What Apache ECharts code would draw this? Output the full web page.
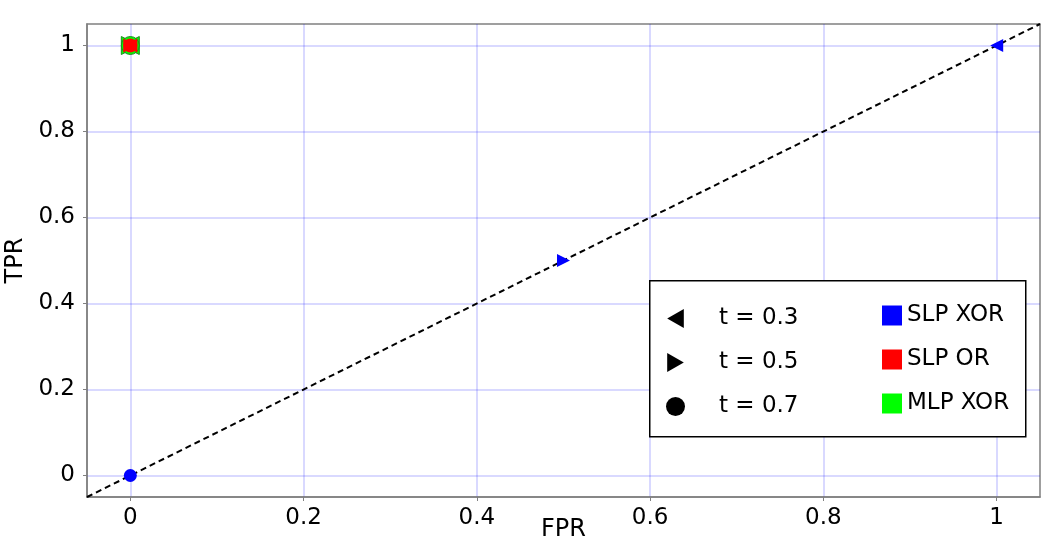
<!DOCTYPE html>
<html>
<head>
<meta charset="utf-8">
<script src="https://cdn.jsdelivr.net/npm/echarts@6/dist/echarts.min.js"></script>
<style>html,body{margin:0;padding:0;background:#fff}#c{width:1062px;height:551px}</style>
</head>
<body>
<div id="c"></div>
<script>
const thresholdNames = ['t = 0.3', 't = 0.5', 't = 0.7'];
const modelNames = ['SLP XOR', 'SLP OR', 'MLP XOR'];
const slpXorPoints = [[1, 1], [0.5, 0.5], [0, 0]];
const slpOrPoints = [[0, 1], [0, 1], [0, 1]];
const mlpXorPoints = [[0, 1], [0, 1], [0, 1]];
const chanceLine = [[-0.05, -0.05], [1.05, 1.05]];
const tickValues = [0, 0.2, 0.4, 0.6, 0.8, 1];
const axisRange = [-0.05, 1.05];

const FONT = 'DejaVu Sans';
const LEFT_TRI = 'path://M0,8L14,0L14,16Z';
const RIGHT_TRI = 'path://M14,8L0,0L0,16Z';
const thresholdSymbols = [LEFT_TRI, RIGHT_TRI, 'circle'];
const modelColors = ['#0000ff', '#ff0000', '#00ff00'];

function pointsWithSymbols(points) {
  return points.map((p, i) => ({ value: p, symbol: thresholdSymbols[i] }));
}

const chart = echarts.init(document.getElementById('c'), null, { renderer: 'canvas' });

function axis(name, nameGap, labelMargin) {
  return {
    type: 'value',
    min: axisRange[0], max: axisRange[1],
    name: name, nameLocation: 'middle', nameGap: nameGap, nameMoveOverlap: false,
    nameTextStyle: { fontFamily: FONT, fontSize: 24, color: '#000' },
    axisLine: { show: true, onZero: false, lineStyle: { color: '#808080', width: 1.5 } },
    axisTick: { show: true, length: 4, customValues: tickValues, lineStyle: { color: '#808080', width: 1 } },
    axisLabel: {
      customValues: tickValues, margin: labelMargin,
      fontFamily: FONT, fontSize: 23, color: '#000',
      formatter: v => String(Math.round(v * 10) / 10)
    },
    splitLine: { show: true, customValues: tickValues, lineStyle: { color: 'rgba(0,0,255,0.2)', width: 1.5 } }
  };
}

const series = [
  {
    name: 'chance', type: 'line', data: chanceLine, symbol: 'none', silent: true,
    lineStyle: { color: '#000', width: 2, type: [6, 4] }, z: 1
  },
  ...thresholdNames.map((n, i) => ({
    name: n, type: 'scatter', data: [], symbol: thresholdSymbols[i],
    itemStyle: { color: '#000', opacity: 1 }
  })),
  {
    name: modelNames[2], type: 'scatter', data: pointsWithSymbols(mlpXorPoints),
    symbolSize: 18, itemStyle: { color: modelColors[2], opacity: 1, borderColor: '#1e8c1e', borderWidth: 1 }, z: 3
  },
  {
    name: modelNames[1], type: 'scatter', data: pointsWithSymbols(slpOrPoints),
    symbolSize: 14, itemStyle: { color: modelColors[1], opacity: 1 }, z: 4
  },
  {
    name: modelNames[0], type: 'scatter', data: pointsWithSymbols(slpXorPoints),
    symbolSize: 13, itemStyle: { color: modelColors[0], opacity: 1 }, z: 5
  }
];

chart.setOption({
  animation: false,
  grid: {
    left: 87, right: 22, top: 24, bottom: 54, show: true,
    borderColor: '#808080', borderWidth: 1.5, containLabel: false, outerBoundsMode: 'none'
  },
  xAxis: axis('FPR', 21, 10),
  yAxis: axis('TPR', 59, 12),
  graphic: [{
    type: 'rect', left: 649, top: 280, z: 10,
    shape: { width: 376, height: 156 },
    style: { fill: '#fff', stroke: '#000', lineWidth: 1.5 }
  }],
  legend: [
    {
      left: 666, top: 307, orient: 'vertical', z: 20, padding: 0,
      itemWidth: 19, itemHeight: 19, itemGap: 21,
      data: thresholdNames.map((n, i) => ({ name: n, icon: thresholdSymbols[i] })),
      textStyle: { fontFamily: FONT, fontSize: 23, color: '#000', padding: [0, 0, 0, 29] }
    },
    {
      left: 882, top: 304, orient: 'vertical', z: 20, padding: 0,
      itemWidth: 20, itemHeight: 20, itemGap: 21,
      data: modelNames.map(n => ({ name: n, icon: 'rect', itemStyle: { borderWidth: 0 } })),
      textStyle: { fontFamily: FONT, fontSize: 23, color: '#000' }
    }
  ],
  series: series
});
</script>
</body>
</html>
